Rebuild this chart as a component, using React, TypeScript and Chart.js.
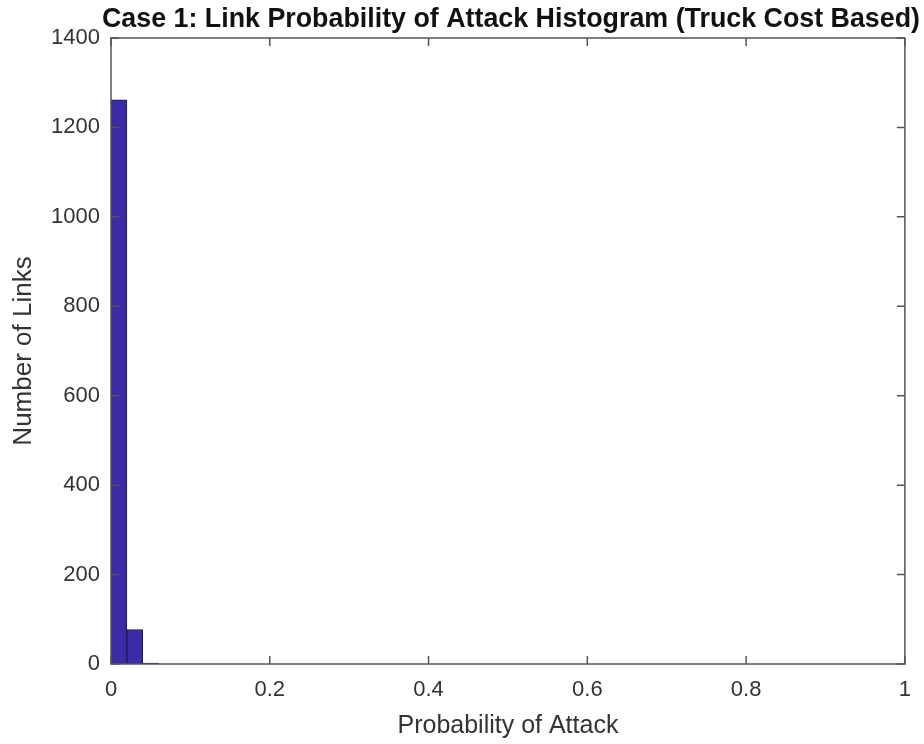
import React, { useEffect, useRef } from "react";
import { Chart, registerables } from "chart.js";

Chart.register(...registerables);

const binCenters = [0.01, 0.03, 0.05];
const binCounts = [1262, 77, 2];
const xTicks = [0, 0.2, 0.4, 0.6, 0.8, 1];
const yTicks = [0, 200, 400, 600, 800, 1000, 1200, 1400];
const titleText = "Case 1: Link Probability of Attack Histogram (Truck Cost Based)";
const xTitle = "Probability of Attack";
const yTitle = "Number of Links";

const FONT = "'Liberation Sans', Arial, Helvetica, sans-serif";

const boxPlugin = {
  id: "matlabBox",
  afterDraw(chart: any) {
    const { ctx, chartArea } = chart;
    const { left, right, top, bottom } = chartArea;
    const xs = chart.scales.x;
    const ys = chart.scales.y;
    ctx.save();
    ctx.strokeStyle = "#555555";
    ctx.lineWidth = 1.5;
    ctx.strokeRect(left, top, right - left, bottom - top);
    const tl = 8;
    ctx.beginPath();
    xTicks.forEach((v) => {
      const px = xs.getPixelForValue(v);
      ctx.moveTo(px, bottom);
      ctx.lineTo(px, bottom - tl);
      ctx.moveTo(px, top);
      ctx.lineTo(px, top + tl);
    });
    yTicks.forEach((v) => {
      const py = ys.getPixelForValue(v);
      ctx.moveTo(left, py);
      ctx.lineTo(left + tl, py);
      ctx.moveTo(right, py);
      ctx.lineTo(right - tl, py);
    });
    ctx.stroke();

    ctx.fillStyle = "#111111";
    ctx.font = `bold 28px ${FONT}`;
    ctx.textAlign = "center";
    ctx.textBaseline = "alphabetic";
    const tw = ctx.measureText(titleText).width;
    const target = 818;
    const cx = (left + right) / 2;
    ctx.save();
    ctx.translate(511, 27);
    ctx.scale(target / tw, 1);
    ctx.fillText(titleText, 0, 0);
    ctx.restore();

    ctx.fillStyle = "#333333";
    ctx.font = `25px ${FONT}`;
    ctx.fillText(xTitle, cx, 733);

    ctx.save();
    ctx.font = `26px ${FONT}`;
    ctx.textBaseline = "middle";
    ctx.translate(24, (top + bottom) / 2);
    ctx.rotate(-Math.PI / 2);
    ctx.fillText(yTitle, 0, 0);
    ctx.restore();
    ctx.restore();
  },
};

export default function App() {
  const ref = useRef<HTMLCanvasElement | null>(null);
  useEffect(() => {
    document.body.style.margin = "0";
    const canvas = ref.current!;
    const chart = new Chart(canvas, {
      type: "bar",
      data: {
        datasets: [
          {
            data: binCenters.map((c, i) => ({ x: c, y: binCounts[i] })),
            backgroundColor: "#3a2ba6",
            borderColor: "#1c1850",
            borderWidth: 1,
            barPercentage: 1,
            categoryPercentage: 1,
          },
        ],
      },
      options: {
        animation: false,
        responsive: false,
        maintainAspectRatio: false,
        layout: { padding: { top: 38, right: 18, left: 0, bottom: 0 } },
        plugins: { legend: { display: false }, tooltip: { enabled: false }, title: { display: false } },
        scales: {
          x: {
            type: "linear",
            min: 0,
            max: 1,
            offset: false,
            grid: { display: false, drawTicks: false },
            border: { display: false },
            ticks: {
              stepSize: 0.2,
              padding: 13,
              color: "#333333",
              font: { family: FONT, size: 22 },
              maxRotation: 0,
              callback: (v: any) => String(Math.round(Number(v) * 10) / 10),
            },
            afterFit: (s: any) => {
              s.height = 80;
            },
          },
          y: {
            min: 0,
            max: 1400,
            grid: { display: false, drawTicks: false },
            border: { display: false },
            ticks: {
              stepSize: 200,
              padding: 11,
              color: "#333333",
              font: { family: FONT, size: 22 },
              callback: (v: any) => String(v),
            },
            afterFit: (s: any) => {
              s.width = 111;
            },
          },
        },
      },
      plugins: [boxPlugin],
    });
    return () => chart.destroy();
  }, []);
  return <canvas ref={ref} width={924} height={744} style={{ display: "block" }} />;
}
